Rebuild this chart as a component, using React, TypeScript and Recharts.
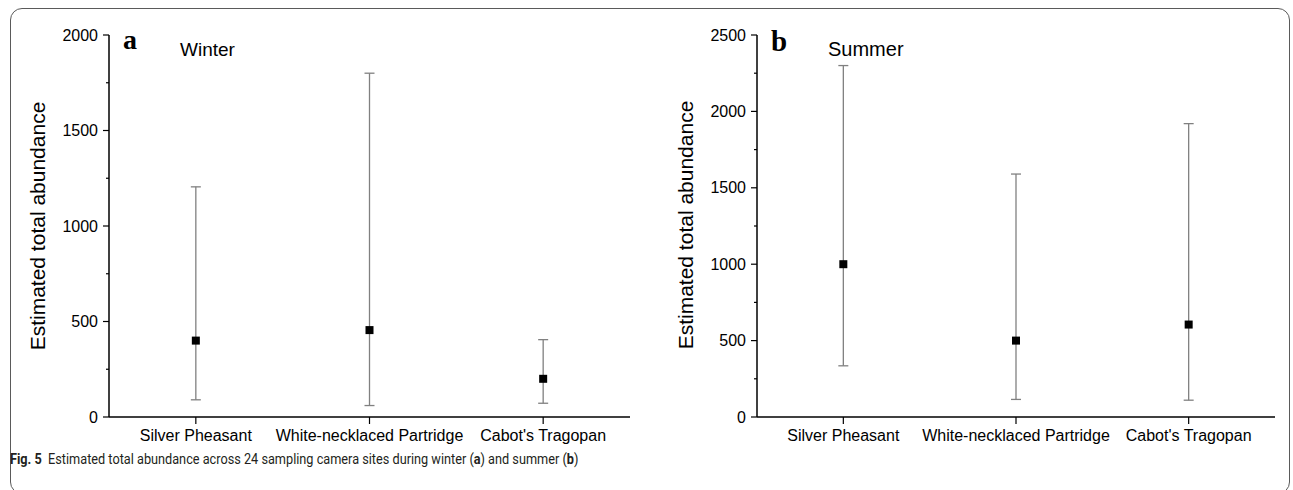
import React from 'react';
import { ScatterChart, Scatter, XAxis, YAxis, ErrorBar } from 'recharts';

const categories = ['Silver Pheasant', 'White-necklaced Partridge', "Cabot's Tragopan"];

const winterMean = [400, 455, 200];
const winterLower = [90, 60, 72];
const winterUpper = [1205, 1800, 405];

const summerMean = [1000, 500, 605];
const summerLower = [335, 115, 110];
const summerUpper = [2300, 1590, 1920];

const winterTicks = [0, 250, 500, 750, 1000, 1250, 1500, 1750, 2000];
const summerTicks = [0, 250, 500, 750, 1000, 1250, 1500, 1750, 2000, 2250, 2500];

const sans = '"Liberation Sans", Arial, sans-serif';

const buildData = (mean: number[], lower: number[], upper: number[]) =>
    categories.map((name, i) => ({
        x: i + 1,
        y: mean[i],
        err: [mean[i] - lower[i], upper[i] - mean[i]],
    }));

const YTick = (props: any) => {
    const { x, y, payload } = props;
    const major = payload.value % 500 === 0;
    return (
        <g>
            <line x1={x - (major ? 6 : 3)} y1={y} x2={x} y2={y} stroke="#000" strokeWidth={1.2} />
            {major && (
                <text x={x - 11} y={y} dy="0.35em" textAnchor="end" fontSize={16} fontFamily={sans} fill="#000">
                    {payload.value}
                </text>
            )}
        </g>
    );
};

const Square = (props: any) => {
    const { cx, cy } = props;
    return <rect x={cx - 4} y={cy - 4} width={8} height={8} fill="#000" />;
};

interface PanelProps {
    data: { x: number; y: number; err: number[] }[];
    max: number;
    ticks: number[];
    left: number;
    marginLeft: number;
}

const Panel: React.FC<PanelProps> = ({ data, max, ticks, left, marginLeft }) => (
    <div style={{ position: 'absolute', left, top: 0 }}>
        <ScatterChart
            width={645}
            height={490}
            margin={{ top: 35, right: 15, left: marginLeft, bottom: 43 }}
        >
            <XAxis
                type="number"
                dataKey="x"
                domain={[0.5, 3.5]}
                ticks={[1, 2, 3]}
                tickFormatter={(v: number) => categories[v - 1]}
                interval={0}
                height={30}
                tickSize={7}
                tickMargin={6}
                axisLine={{ stroke: '#000', strokeWidth: 1.5 }}
                tickLine={{ stroke: '#000', strokeWidth: 1.2 }}
                tick={{ fill: '#000', fontSize: 16, fontFamily: sans }}
                allowDataOverflow
            />
            <YAxis
                type="number"
                dataKey="y"
                domain={[0, max]}
                ticks={ticks}
                interval={0}
                width={60}
                tickSize={0}
                tickMargin={0}
                axisLine={{ stroke: '#000', strokeWidth: 1.5 }}
                tickLine={false}
                tick={<YTick />}
                allowDataOverflow
            />
            <Scatter data={data} shape={<Square />} isAnimationActive={false}>
                <ErrorBar dataKey="err" direction="y" width={5} stroke="#808080" strokeWidth={1.3} isAnimationActive={false} />
            </Scatter>
        </ScatterChart>
    </div>
);

const axisTitle = (left: number, top: number) => (
    <div
        style={{
            position: 'absolute',
            left: left - 150,
            top: top - 12,
            width: 300,
            height: 24,
            lineHeight: '24px',
            textAlign: 'center',
            transform: 'rotate(-90deg)',
            fontFamily: sans,
            fontSize: 21,
            color: '#000',
            whiteSpace: 'nowrap',
        }}
    >
        Estimated total abundance
    </div>
);

const App: React.FC = () => {
    const winter = buildData(winterMean, winterLower, winterUpper);
    const summer = buildData(summerMean, summerLower, summerUpper);

    return (
        <div style={{ position: 'absolute', left: 0, top: 0, width: 1293, height: 490, overflow: 'hidden', background: '#fff' }}>
            <div
                style={{
                    position: 'absolute',
                    left: 10,
                    top: 8,
                    width: 1280,
                    height: 486,
                    border: '1.5px solid #5a5a5a',
                    borderRadius: 12,
                    boxSizing: 'border-box',
                }}
            />
            <Panel data={winter} max={2000} ticks={winterTicks} left={0} marginLeft={49} />
            <Panel data={summer} max={2500} ticks={summerTicks} left={645} marginLeft={52} />

            {axisTitle(38, 226)}
            {axisTitle(686, 225)}

            <div style={{ position: 'absolute', left: 123, top: 24, fontFamily: '"Liberation Serif", serif', fontWeight: 'bold', fontSize: 28 }}>a</div>
            <div style={{ position: 'absolute', left: 180, top: 39, fontFamily: sans, fontSize: 19 }}>Winter</div>
            <div style={{ position: 'absolute', left: 771, top: 25, fontFamily: '"Liberation Serif", serif', fontWeight: 'bold', fontSize: 29 }}>b</div>
            <div style={{ position: 'absolute', left: 828, top: 38, fontFamily: sans, fontSize: 20 }}>Summer</div>

            <div
                style={{
                    position: 'absolute',
                    left: 10,
                    top: 450,
                    fontFamily: 'Roboto, sans-serif',
                    fontSize: 15.5,
                    color: '#231f20',
                    whiteSpace: 'nowrap',
                    transform: 'scaleX(0.82)',
                    transformOrigin: 'left center',
                }}
            >
                <b>Fig. 5</b>&nbsp;&nbsp;Estimated total abundance across 24 sampling camera sites during winter (<b>a</b>) and summer (<b>b</b>)
            </div>
        </div>
    );
};

export default App;
